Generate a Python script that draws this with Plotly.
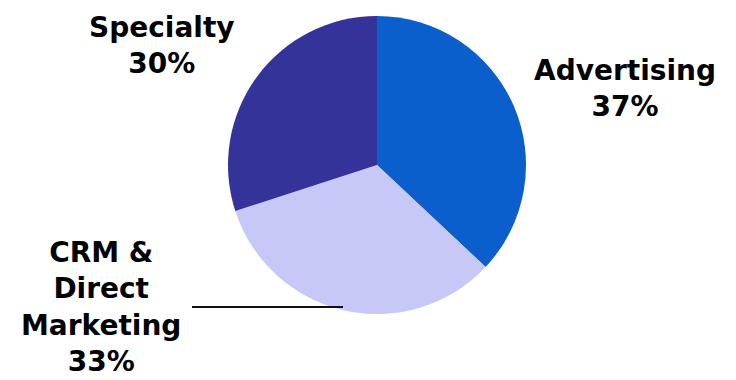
import plotly.graph_objects as go

segments = ["Advertising", "CRM & Direct Marketing", "Specialty"]
shares = [37, 33, 30]
label_texts = ["Advertising<br>37%", "CRM &<br>Direct<br>Marketing<br>33%", "Specialty<br>30%"]
colors = ["#0a5fcc", "#c8c8f8", "#333399"]

W, H = 736, 380
cx, cy, r = 377, 165, 149

fig = go.Figure(go.Pie(
    labels=segments,
    values=shares,
    sort=False,
    direction="clockwise",
    rotation=0,
    marker=dict(colors=colors, line=dict(width=0)),
    textinfo="none",
    hoverinfo="label+percent",
    showlegend=False,
    domain=dict(x=[(cx - r) / W, (cx + r) / W],
                y=[(H - cy - r) / H, (H - cy + r) / H]),
))

font = dict(family="DejaVu Sans", size=28, color="#000000")
label_pos = [(625, 88), (101, 307), (162, 45)]
for txt, (x, y) in zip(label_texts, label_pos):
    fig.add_annotation(x=x / W, y=1 - y / H, xref="paper", yref="paper",
                       text="<b>" + txt + "</b>", showarrow=False,
                       xanchor="center", yanchor="middle", font=font, align="center")

fig.add_shape(type="line", xref="paper", yref="paper",
              x0=192 / W, x1=343 / W, y0=1 - 307 / H, y1=1 - 307 / H,
              line=dict(color="#111111", width=2))

fig.update_layout(width=W, height=H, margin=dict(l=0, r=0, t=0, b=0),
                  paper_bgcolor="white", plot_bgcolor="white")

fig.write_html("out.html")
